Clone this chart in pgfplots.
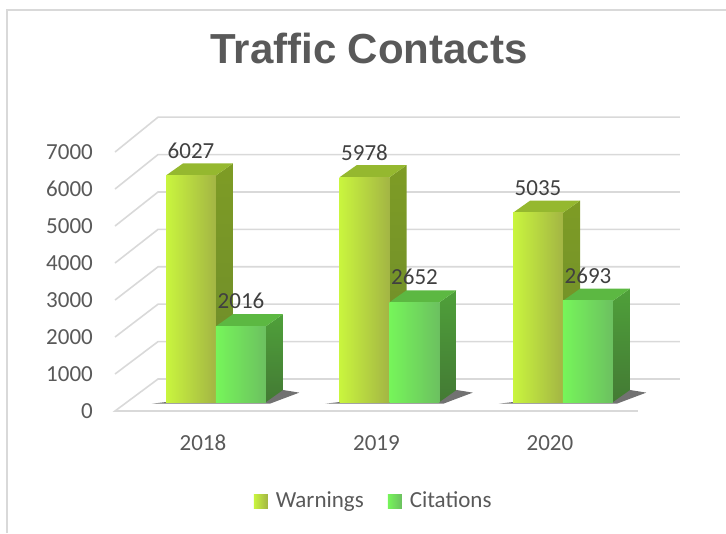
\documentclass[border=0pt]{standalone}
\usepackage{pgfplots}
\pgfplotsset{compat=1.18}
\usepackage{fontspec}
\setmainfont{Carlito}
\newfontfamily\titlefont{Liberation Sans}
\definecolor{wL}{HTML}{C9F53E}
\definecolor{wR}{HTML}{A3B544}
\definecolor{wS}{HTML}{7E9C25}
\definecolor{wS2}{HTML}{6C8A2C}
\definecolor{wT}{HTML}{95B82F}
\definecolor{cL}{HTML}{76F55A}
\definecolor{cR}{HTML}{6CC060}
\definecolor{cS}{HTML}{4FA03A}
\definecolor{cS2}{HTML}{437A34}
\definecolor{cT}{HTML}{5CB842}
\definecolor{gridc}{HTML}{D9D9D9}
\definecolor{txt}{HTML}{595959}
\definecolor{lbl}{HTML}{404040}
\pgfplotsset{
  wfront/.style={ybar, bar width=0.288, bar shift=-0.144, draw=none, left color=wL, right color=wR,
    nodes near coords, nodes near coords style={anchor=center, xshift=-18.75pt, yshift=18.75pt, font=\fontsize{17.25}{20}\selectfont, text=lbl}},
  cfront/.style={ybar, bar width=0.288, bar shift=0.144, draw=none, left color=cL, right color=cR,
    nodes near coords, nodes near coords style={anchor=center, xshift=18.75pt, yshift=18.75pt, font=\fontsize{17.25}{20}\selectfont, text=lbl}},
  gl/.style={gridc, line width=1.2pt, forget plot},
  shd/.style={fill=black!85, draw=none, opacity=0.65, forget plot},
}
\begin{document}
\begin{tikzpicture}
\useasboundingbox (0,0) rectangle (544.5pt,399.75pt);
\draw[gridc, line width=1.5pt] (5.25pt,0pt) -- (5.25pt,392pt) -- (544.5pt,392pt);
\begin{axis}[
  at={(70.91pt,67.5pt)}, anchor=south west,
  scale only axis, width=455.44pt, height=270.4pt,
  xmin=-0.7, xmax=2.8, ymin=-1090, ymax=8500,
  clip=false,
  axis lines=left, axis line style={draw=none}, tick style={draw=none},
  major tick length=0pt,
  xtick={-0.075,0.925,1.925}, xticklabels={2018,2019,2020},
  ytick={-239,745,1729,2713,3697,4681,5665,6649},
  yticklabels={0,1000,2000,3000,4000,5000,6000,7000},
  xticklabel style={anchor=center, inner sep=0pt, font=\fontsize{17.25}{20}\selectfont, text=txt},
  yticklabel style={anchor=east, inner sep=0pt, xshift=-1.1pt, font=\fontsize{17.25}{20}\selectfont, text=txt},
  /pgf/number format/assume math mode=true,
  /pgf/number format/1000 sep={},
  title={\titlefont\bfseries Traffic Contacts},
  title style={at={(0.452,1.073)}, anchor=center, font=\fontsize{31.5}{36}\selectfont, text=txt},
  legend style={at={(0.4602,-0.161)}, anchor=center, draw=none, fill=none,
    font=\fontsize{17.25}{20}\selectfont, text=txt, legend columns=-1,
    /tikz/every odd column/.append style={column sep=4pt},
    /tikz/every even column/.append style={column sep=16pt}},
]
% ---- walls / gridlines ----
\addplot[gl] coordinates {(2.432,-239) (-0.582,-239) (-0.334,612) (2.674,612)};
\addplot[gl] coordinates {(-0.582,745) (-0.334,1607) (2.674,1607)};
\addplot[gl] coordinates {(-0.582,1729) (-0.334,2602) (2.674,2602)};
\addplot[gl] coordinates {(-0.582,2713) (-0.334,3597) (2.674,3597)};
\addplot[gl] coordinates {(-0.582,3697) (-0.334,4592) (2.674,4592)};
\addplot[gl] coordinates {(-0.582,4681) (-0.334,5587) (2.674,5587)};
\addplot[gl] coordinates {(-0.582,5665) (-0.334,6582) (2.674,6582)};
\addplot[gl] coordinates {(-0.582,6649) (-0.334,7577) (2.674,7577)};
% ---- shadows ----
\addplot[shd] coordinates {(-0.37,-45) (0.31,-45) (0.48,250) (0.386,320) (-0.288,0)} --cycle;
\addplot[shd] coordinates {(0.63,-45) (1.31,-45) (1.48,250) (1.386,320) (0.712,0)} --cycle;
\addplot[shd] coordinates {(1.63,-45) (2.31,-45) (2.48,250) (2.386,320) (1.712,0)} --cycle;
% ---- Warnings side + top ----
\addplot[top color=wS, bottom color=wS2, draw=none, forget plot] coordinates {(0,0) (0.098,320) (0.098,6347) (0,6027)} --cycle;
\addplot[fill=wT, draw=none, forget plot] coordinates {(-0.288,6027) (-0.19,6347) (0.098,6347) (0,6027)} --cycle;
\addplot[top color=wS, bottom color=wS2, draw=none, forget plot] coordinates {(1,0) (1.098,320) (1.098,6298) (1,5978)} --cycle;
\addplot[fill=wT, draw=none, forget plot] coordinates {(0.712,5978) (0.81,6298) (1.098,6298) (1,5978)} --cycle;
\addplot[top color=wS, bottom color=wS2, draw=none, forget plot] coordinates {(2,0) (2.098,320) (2.098,5355) (2,5035)} --cycle;
\addplot[fill=wT, draw=none, forget plot] coordinates {(1.712,5035) (1.81,5355) (2.098,5355) (2,5035)} --cycle;
% ---- Warnings front (one bar per plot so each bar gets its own gradient) ----
\addplot[wfront,
  legend image code/.code={\fill[left color=wL, right color=wR] (0pt,-5.25pt) rectangle (10.5pt,5.25pt);}]
  coordinates {(0,6027)};
\addlegendentry{Warnings}
\addplot[wfront, forget plot] coordinates {(1,5978)};
\addplot[wfront, forget plot] coordinates {(2,5035)};
% ---- Citations side + top ----
\addplot[top color=cS, bottom color=cS2, draw=none, forget plot] coordinates {(0.288,0) (0.386,320) (0.386,2336) (0.288,2016)} --cycle;
\addplot[fill=cT, draw=none, forget plot] coordinates {(0,2016) (0.098,2336) (0.386,2336) (0.288,2016)} --cycle;
\addplot[top color=cS, bottom color=cS2, draw=none, forget plot] coordinates {(1.288,0) (1.386,320) (1.386,2972) (1.288,2652)} --cycle;
\addplot[fill=cT, draw=none, forget plot] coordinates {(1,2652) (1.098,2972) (1.386,2972) (1.288,2652)} --cycle;
\addplot[top color=cS, bottom color=cS2, draw=none, forget plot] coordinates {(2.288,0) (2.386,320) (2.386,3013) (2.288,2693)} --cycle;
\addplot[fill=cT, draw=none, forget plot] coordinates {(2,2693) (2.098,3013) (2.386,3013) (2.288,2693)} --cycle;
% ---- Citations front ----
\addplot[cfront,
  legend image code/.code={\fill[left color=cL, right color=cR] (0pt,-5.25pt) rectangle (10.5pt,5.25pt);}]
  coordinates {(0,2016)};
\addlegendentry{Citations}
\addplot[cfront, forget plot] coordinates {(1,2652)};
\addplot[cfront, forget plot] coordinates {(2,2693)};
\end{axis}
\end{tikzpicture}
\end{document}
